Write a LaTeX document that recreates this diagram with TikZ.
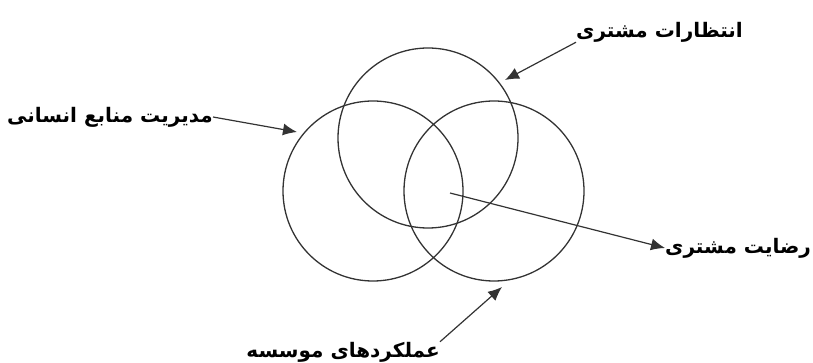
\documentclass[tikz,border=0pt]{standalone}
\usepackage{fontspec}
\newfontfamily\arabicfont[Script=Arabic]{DejaVu Sans}
\TeXXeTstate=1
\usetikzlibrary{arrows.meta}

\tikzset{
  venn/.style={draw=black!80, line width=1.3pt, circle, minimum size=180pt, inner sep=0pt},
  lbl/.style={font=\arabicfont\bfseries\fontsize{20}{24}\selectfont, inner sep=0pt},
  pointer/.style={draw=black!80, line width=1.2pt, -{Latex[length=14pt,width=12pt]}}
}

\begin{document}
\begin{tikzpicture}[x=1pt, y=-1pt]
\useasboundingbox (0,0) rectangle (813,363);
% the three circles
\node[venn] (expc) at (428,138) {};
\node[venn] (hrm) at (373,191) {};
\node[venn] (perf) at (494,191) {};
% labels
\node[lbl, anchor=east] (lexpc) at (743,32) {\beginR انتظارات مشتری\endR};
\node[lbl, anchor=east] (lhrm) at (213,117) {\beginR مدیریت منابع انسانی\endR};
\node[lbl, anchor=west] (lsat) at (665,248) {\beginR رضایت مشتری\endR};
\node[lbl, anchor=east] (lperf) at (440,352) {\beginR عملکردهای موسسه\endR};
% arrow ends
\coordinate (texpc) at (505,80);
\coordinate (thrm) at (297,132);
\coordinate (ssat) at (450,193);
\coordinate (tperf) at (502,287);
\draw[pointer] (lexpc.south west) -- (texpc);
\draw[pointer] (lhrm.east) -- (thrm);
\draw[pointer] (ssat) -- (lsat.west);
\draw[pointer] (lperf.north east) -- (tperf);
\end{tikzpicture}
\end{document}
